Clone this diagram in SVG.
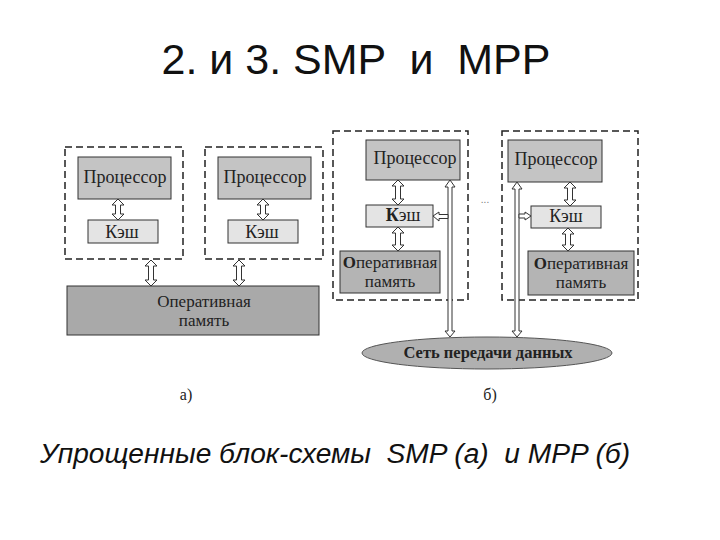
<svg xmlns="http://www.w3.org/2000/svg" width="720" height="540" viewBox="0 0 720 540">
<style>
.t{font-family:"Liberation Serif","Times New Roman",serif;fill:#222;font-size:18px;text-anchor:middle}
.m{font-size:17px}
.b{font-weight:bold}
.dash{fill:none;stroke:#222;stroke-width:1.5;stroke-dasharray:7,4}
.proc{fill:#c4c4c4;stroke:#333;stroke-width:1}
.cache{fill:#e4e4e4;stroke:#333;stroke-width:1}
.mem{fill:#b4b4b4;stroke:#333;stroke-width:1}
.arr{fill:#fff;stroke:#333;stroke-width:1}
</style>
<rect width="720" height="540" fill="#fff"/>
<text x="356" y="74" font-family="Liberation Sans, Arial, sans-serif" font-size="43" text-anchor="middle" fill="#111" style="white-space:pre" xml:space="preserve">2. и 3. SMP  и  MPP</text>

<g id="smp">
 <rect class="dash" x="65" y="147" width="118" height="112"/>
 <rect class="dash" x="205" y="147" width="118" height="112"/>
</g>
<g id="smp-proc1"><rect class="proc" x="78" y="157" width="93" height="42"/><text class="t" x="125" y="183">Процессор</text></g>
<g id="smp-cache1"><rect class="cache" x="88" y="220" width="70" height="23"/><text class="t" x="122" y="238">Кэш</text></g>
<g id="smp-proc2"><rect class="proc" x="218" y="157" width="93" height="42"/><text class="t" x="265" y="183">Процессор</text></g>
<g id="smp-cache2"><rect class="cache" x="228" y="220" width="70" height="23"/><text class="t" x="262" y="238">Кэш</text></g>
<g id="smp-mem"><rect class="mem" x="67" y="286" width="252" height="49" style="fill:#a9a9a9"/><text class="t m" x="204" y="307">Оперативная</text><text class="t m" x="204" y="326">память</text></g>

<g id="mpp1box"><rect class="dash" x="333" y="131" width="135" height="169"/></g>
<g id="mpp-proc1"><rect class="proc" x="366" y="140" width="94" height="40"/><text class="t" x="415" y="164">Процессор</text></g>
<g id="mpp-cache1"><rect class="cache" x="366" y="205" width="67" height="22"/><text class="t b" x="403" y="221">К<tspan font-weight="normal">эш</tspan></text></g>
<g id="mpp-mem1"><rect class="mem" x="340" y="251" width="100" height="42"/><text class="t b m" x="390" y="268">О<tspan font-weight="normal">перативная</tspan></text><text class="t m" x="390" y="287">память</text></g>

<g id="mpp2box"><rect class="dash" x="502" y="131" width="136" height="169"/></g>
<g id="mpp-proc2"><rect class="proc" x="508" y="140" width="94" height="42"/><text class="t" x="556" y="165">Процессор</text></g>
<g id="mpp-cache2"><rect class="cache" x="531" y="206" width="70" height="22"/><text class="t" x="566" y="222">Кэш</text></g>
<g id="mpp-mem2"><rect class="mem" x="528" y="251" width="106" height="44"/><text class="t b m" x="581" y="269">О<tspan font-weight="normal">перативная</tspan></text><text class="t m" x="581" y="288">память</text></g>

<g id="net"><rect x="362" y="337" width="250" height="32" rx="125" ry="16" fill="#b0b0b0" stroke="#555" stroke-width="1"/><text class="t b" x="488" y="358" font-size="16.5" style="font-size:16.5px">Сеть передачи данных</text></g>

<text x="485" y="203" font-family="Liberation Sans, sans-serif" font-size="10" fill="#777" text-anchor="middle">...</text>
<text class="t" x="186" y="400" style="font-size:16px">а)</text>
<text class="t" x="490" y="400" style="font-size:16px">б)</text>

<g id="connectors">
 <polygon class="arr" points="118,199 124,205 120.5,205 120.5,214 124,214 118,220 112,214 115.5,214 115.5,205 112,205"/>
 <polygon class="arr" points="263,199 269,205 265.5,205 265.5,214 269,214 263,220 257,214 260.5,214 260.5,205 257,205"/>
 <polygon class="arr" points="151,260 157,266 153.5,266 153.5,280 157,280 151,286 145,280 148.5,280 148.5,266 145,266"/>
 <polygon class="arr" points="239,260 245,266 241.5,266 241.5,280 245,280 239,286 233,280 236.5,280 236.5,266 233,266"/>
 <polygon class="arr" points="398,180 404,186 400.5,186 400.5,199 404,199 398,205 392,199 395.5,199 395.5,186 392,186"/>
 <polygon class="arr" points="398,227 404,233 400.5,233 400.5,245 404,245 398,251 392,245 395.5,245 395.5,233 392,233"/>
 <path class="arr" d="M450,180 L455,187 L452,187 L452,331 L455,331 L450,337 L445,331 L448,331 L448,187 L445,187 Z"/>
 <path class="arr" d="M433,216 L439,212 L439,214.5 L448,214.5 L448,218.5 L439,218.5 L439,221 Z"/>
 <polygon class="arr" points="570,182 576,188 572.5,188 572.5,200 576,200 570,206 564,200 567.5,200 567.5,188 564,188"/>
 <polygon class="arr" points="568,228 574,234 570.5,234 570.5,245 574,245 568,251 562,245 565.5,245 565.5,234 562,234"/>
 <path class="arr" d="M517,182 L522,189 L519,189 L519,331 L522,331 L517,337 L512,331 L515,331 L515,189 L512,189 Z"/>
 <path class="arr" d="M531,216 L525,212 L525,214 L519,214 L519,218 L525,218 L525,220 Z"/>
</g>

<text x="40" y="463" font-family="Liberation Sans, Arial, sans-serif" font-size="27" font-style="italic" fill="#111" textLength="590" lengthAdjust="spacingAndGlyphs" style="white-space:pre" xml:space="preserve">Упрощенные блок-схемы  SMP (а)  и MPP (б)</text>
</svg>
